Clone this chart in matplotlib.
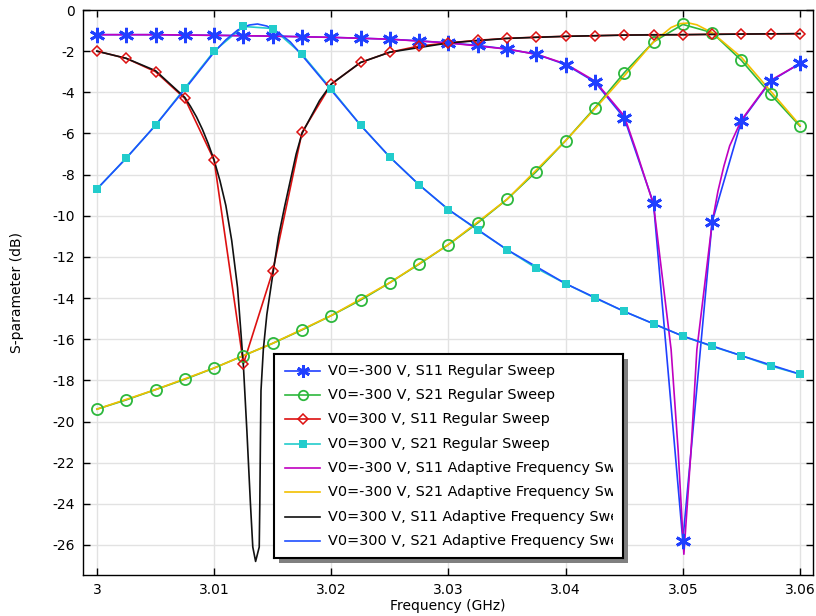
import matplotlib
matplotlib.use("Agg")
import matplotlib.pyplot as plt
from matplotlib.lines import Line2D
from matplotlib.patches import Rectangle
from matplotlib.transforms import Bbox, TransformedBbox

# ---------------- data ----------------
freq_regular = [3.0, 3.0025, 3.005, 3.0075, 3.01, 3.0125, 3.015, 3.0175, 3.02,
                3.0225, 3.025, 3.0275, 3.03, 3.0325, 3.035, 3.0375, 3.04, 3.0425,
                3.045, 3.0475, 3.05, 3.0525, 3.055, 3.0575, 3.06]

s11_m300_regular = [-1.2, -1.2, -1.2, -1.22, -1.23, -1.25, -1.27, -1.3, -1.33,
                    -1.37, -1.42, -1.5, -1.6, -1.72, -1.9, -2.15, -2.65, -3.5,
                    -5.25, -9.4, -25.8, -10.3, -5.4, -3.45, -2.6]
s21_m300_regular = [-19.4, -18.95, -18.45, -17.95, -17.4, -16.8, -16.2, -15.55, -14.85,
                    -14.1, -13.25, -12.35, -11.4, -10.35, -9.2, -7.85, -6.35, -4.75,
                    -3.05, -1.55, -0.7, -1.1, -2.45, -4.1, -5.65]
s11_p300_regular = [-2.0, -2.35, -3.0, -4.3, -7.3, -17.2, -12.7, -5.95, -3.6,
                    -2.55, -2.05, -1.75, -1.6, -1.47, -1.38, -1.32, -1.28, -1.25,
                    -1.22, -1.2, -1.2, -1.18, -1.17, -1.16, -1.15]
s21_p300_regular = [-8.7, -7.2, -5.6, -3.8, -2.0, -0.8, -0.9, -2.15, -3.85,
                    -5.6, -7.15, -8.5, -9.7, -10.7, -11.65, -12.55, -13.3, -14.0,
                    -14.65, -15.25, -15.85, -16.35, -16.8, -17.3, -17.7]

# adaptive frequency sweep
freq_s11_m300_adapt = [3.0, 3.005, 3.01, 3.015, 3.02, 3.025, 3.03, 3.035, 3.0375,
                       3.04, 3.0425, 3.045, 3.046, 3.0475, 3.049, 3.0496, 3.05009,
                       3.0507, 3.0512, 3.0525, 3.053, 3.0535, 3.054, 3.055, 3.0575, 3.06]
s11_m300_adapt = [-1.2, -1.2, -1.23, -1.27, -1.33, -1.42, -1.6, -1.9, -2.15,
                  -2.62, -3.45, -5.15, -6.8, -9.45, -16.5, -21.4, -26.45,
                  -21.4, -16.5, -10.35, -8.8, -7.6, -6.6, -5.35, -3.42, -2.6]

freq_s21_m300_adapt = [3.0, 3.005, 3.01, 3.015, 3.02, 3.025, 3.03, 3.035, 3.04,
                       3.0425, 3.045, 3.0475, 3.049, 3.0498, 3.0505, 3.0512, 3.0525,
                       3.055, 3.0575, 3.06]
s21_m300_adapt = [-19.4, -18.45, -17.4, -16.2, -14.85, -13.25, -11.4, -9.2, -6.35,
                  -4.8, -3.2, -1.55, -0.85, -0.66, -0.63, -0.72, -1.1, -2.3, -3.95, -5.6]

freq_s11_p300_adapt = [3.0, 3.0025, 3.005, 3.0075, 3.008, 3.0085, 3.009, 3.0095, 3.01,
                       3.0105, 3.011, 3.0115, 3.012, 3.0125, 3.0128, 3.0131, 3.0133,
                       3.01354, 3.01385, 3.0139, 3.01395, 3.014, 3.0142, 3.0145, 3.0151,
                       3.0155, 3.016, 3.0165, 3.017, 3.0175, 3.019, 3.02, 3.0225, 3.025,
                       3.03, 3.035, 3.04, 3.045, 3.05, 3.055, 3.06]
s11_p300_adapt = [-2.0, -2.35, -2.95, -4.25, -4.7, -5.2, -5.8, -6.5, -7.3,
                  -8.3, -9.5, -11.2, -13.5, -17.3, -20.5, -24.0, -26.1,
                  -26.8, -26.1, -24.0, -21.0, -18.5, -16.5, -14.8, -12.5,
                  -11.0, -9.6, -8.3, -7.0, -6.0, -4.4, -3.6, -2.55, -2.05,
                  -1.6, -1.38, -1.28, -1.22, -1.2, -1.17, -1.15]

freq_s21_p300_adapt = [3.0, 3.0025, 3.005, 3.0075, 3.01, 3.011, 3.012, 3.013, 3.0137,
                       3.0145, 3.0155, 3.0165, 3.0175, 3.02, 3.0225, 3.025, 3.0275,
                       3.03, 3.035, 3.04, 3.045, 3.05, 3.055, 3.06]
s21_p300_adapt = [-8.7, -7.2, -5.6, -3.85, -2.05, -1.45, -0.98, -0.73, -0.68,
                  -0.78, -1.1, -1.55, -2.2, -3.9, -5.6, -7.15, -8.5,
                  -9.7, -11.65, -13.3, -14.65, -15.85, -16.8, -17.7]

labels = ["V0=-300 V, S11 Regular Sweep",
          "V0=-300 V, S21 Regular Sweep",
          "V0=300 V, S11 Regular Sweep",
          "V0=300 V, S21 Regular Sweep",
          "V0=-300 V, S11 Adaptive Frequency Sweep",
          "V0=-300 V, S21 Adaptive Frequency Sweep",
          "V0=300 V, S11 Adaptive Frequency Sweep",
          "V0=300 V, S21 Adaptive Frequency Sweep"]

x_ticks = [3.0, 3.01, 3.02, 3.03, 3.04, 3.05, 3.06]
x_tick_labels = ["3", "3.01", "3.02", "3.03", "3.04", "3.05", "3.06"]
y_ticks = list(range(0, -27, -2))

# ---------------- styles ----------------
c_blue = "#2040ff"
c_green = "#2db83d"
c_red = "#dd1111"
c_cyan = "#22cccc"
c_mag = "#c000c0"
c_yel = "#f2c000"
c_blk = "#111111"
c_blue2 = "#1f4fff"

styles = [
    dict(color=c_blue, marker=(6, 2, 0), ms=11, mew=2.0, mfc=c_blue, mec=c_blue, lw=1.2),
    dict(color=c_green, marker="o", ms=8, mew=1.3, mfc="none", mec=c_green, lw=1.2),
    dict(color=c_red, marker="D", ms=5.5, mew=1.1, mfc="none", mec=c_red, lw=1.2),
    dict(color=c_cyan, marker="s", ms=6, mew=0, mfc=c_cyan, mec=c_cyan, lw=1.2),
    dict(color=c_mag, lw=1.2),
    dict(color=c_yel, lw=1.2),
    dict(color=c_blk, lw=1.2),
    dict(color=c_blue2, lw=1.2),
]

W, H = 816, 616
fig = plt.figure(figsize=(W / 100, H / 100), dpi=100)
L, R, T, B = 83, 813, 10, 575
ax = fig.add_axes([L / W, 1 - B / H, (R - L) / W, (B - T) / H])

series = [
    (freq_regular, s11_m300_regular),
    (freq_regular, s21_m300_regular),
    (freq_regular, s11_p300_regular),
    (freq_regular, s21_p300_regular),
    (freq_s11_m300_adapt, s11_m300_adapt),
    (freq_s21_m300_adapt, s21_m300_adapt),
    (freq_s11_p300_adapt, s11_p300_adapt),
    (freq_s21_p300_adapt, s21_p300_adapt),
]
for i in range(4):
    xs, ys = series[i]
    st = styles[i]
    ax.plot(xs, ys, color=st["color"], lw=st["lw"], zorder=2)
for i in range(4, 8):
    xs, ys = series[i]
    st = styles[i]
    ax.plot(xs, ys, color=st["color"], lw=st["lw"], zorder=3)
for i in range(4):
    xs, ys = series[i]
    st = styles[i]
    ax.plot(xs, ys, ls="none", marker=st["marker"], ms=st["ms"], mew=st["mew"],
            mfc=st["mfc"], mec=st["mec"], zorder=4, clip_on=False)

ax.set_xlim(2.99881, 3.06111)
ax.set_ylim(-27.46, 0)
ax.set_xticks(x_ticks)
ax.set_xticklabels(x_tick_labels)
ax.set_yticks(y_ticks)
ax.set_yticklabels([str(v) for v in y_ticks])
ax.tick_params(direction="in", length=5, width=1, top=True, right=True,
               labelsize=10, colors="black", pad=6)
ax.grid(True, color="#e2e2e2", lw=1)
ax.set_axisbelow(True)
for sp in ax.spines.values():
    sp.set_linewidth(1)
ax.set_xlabel("Frequency (GHz)", fontsize=10, labelpad=1)
ax.set_ylabel("S-parameter (dB)", fontsize=10, labelpad=20)

# ---------------- legend (clipped box, as in the reference) ----------------
lx0, lx1, ly0, ly1 = 274, 623, 354, 558
shadow = 5
fig.patches.append(Rectangle(((lx0 + shadow) / W, 1 - (ly1 + shadow) / H),
                             (lx1 - lx0) / W, (ly1 - ly0) / H,
                             transform=fig.transFigure, facecolor="#808080",
                             edgecolor="none", zorder=9))
lax = fig.add_axes([lx0 / W, 1 - ly1 / H, (lx1 - lx0) / W, (ly1 - ly0) / H], zorder=10)
lax.set_xlim(lx0, lx1)
lax.set_ylim(ly1, ly0)
lax.set_xticks([])
lax.set_yticks([])
lax.set_facecolor("white")
for sp in lax.spines.values():
    sp.set_linewidth(1.5)
    sp.set_color("black")
clip_box = TransformedBbox(Bbox([[lx0, ly0], [613, ly1]]), lax.transData)
row0, drow = 370.7, 24.3
for i, (lab, st) in enumerate(zip(labels, styles)):
    yy = row0 + i * drow
    lax.add_line(Line2D([285, 320], [yy, yy], color=st["color"], lw=st["lw"]))
    if "marker" in st:
        lax.add_line(Line2D([302.5], [yy], ls="none", marker=st["marker"],
                            ms=st["ms"] * 0.85, mew=st["mew"], mfc=st["mfc"], mec=st["mec"]))
    t = lax.text(328, yy, lab, fontsize=10.4, va="center", ha="left", clip_on=True)
    t.set_clip_box(clip_box)
    t.set_clip_on(True)

fig.savefig("out.png", dpi=100)
